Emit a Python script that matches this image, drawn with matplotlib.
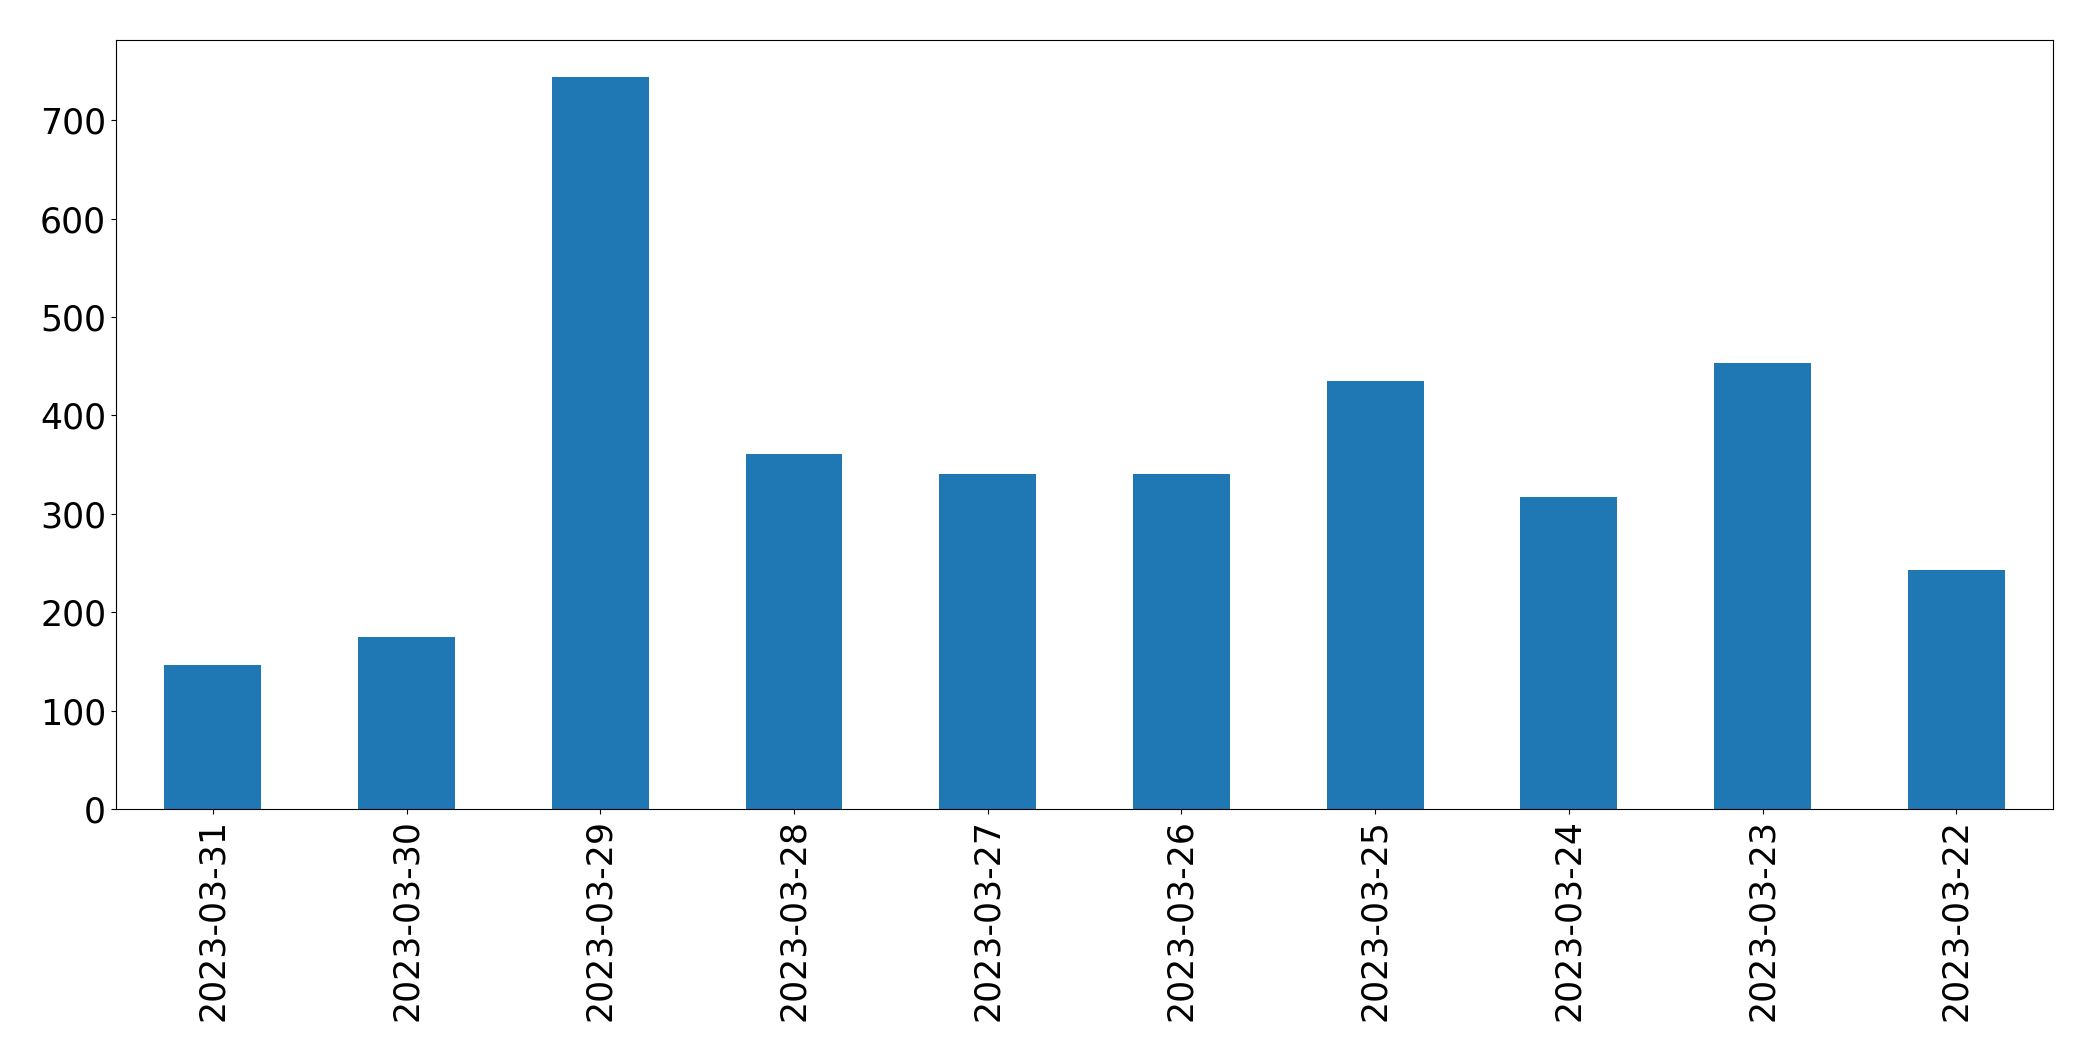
import matplotlib

matplotlib.use("Agg")
import matplotlib.pyplot as plt
import numpy as np

dates = [
    "2023-03-31",
    "2023-03-30",
    "2023-03-29",
    "2023-03-28",
    "2023-03-27",
    "2023-03-26",
    "2023-03-25",
    "2023-03-24",
    "2023-03-23",
    "2023-03-22",
]
counts = [146, 175, 744, 361, 340, 340, 435, 317, 453, 243]

fig = plt.figure(figsize=(20.93, 10.61), dpi=100)
ax = fig.add_axes([0.0554, 0.2375, 0.9256, 0.7245])

x = np.arange(len(dates))
ax.bar(x, counts, width=0.5, color="#1f77b4")
ax.set_xlim(-0.5, len(dates) - 0.5)
ax.set_xticks(x)
ax.set_xticklabels(dates, rotation=90)
ax.set_yticks(range(0, 800, 100))
ax.tick_params(axis="both", labelsize=25)

plt.savefig("out.png", dpi=100)
plt.close()
